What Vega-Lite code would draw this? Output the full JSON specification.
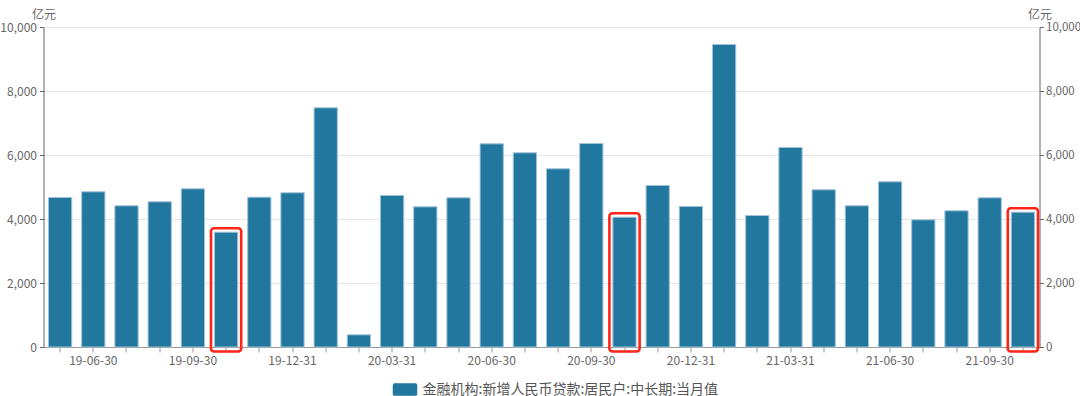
{
  "$schema": "https://vega.github.io/schema/vega-lite/v6.json",
  "autosize": "none",
  "width": 996,
  "height": 320,
  "padding": {"left": 43.5, "top": 27, "right": 40.5, "bottom": 49},
  "background": "#ffffff",
  "config": {
    "font": "Noto Sans CJK SC",
    "view": {"stroke": null},
    "axis": {"labelFont": "Noto Sans CJK SC", "titleFont": "Noto Sans CJK SC", "labelColor": "#666666", "labelFontSize": 12, "titleColor": "#666666", "titleFontSize": 12, "titleFontWeight": "normal"}
  },
  "data": {
    "values": [
      {"date": "19-05-31", "value": 4672},
      {"date": "19-06-30", "value": 4850},
      {"date": "19-07-31", "value": 4412},
      {"date": "19-08-31", "value": 4537},
      {"date": "19-09-30", "value": 4943},
      {"date": "19-10-31", "value": 3588},
      {"date": "19-11-30", "value": 4682},
      {"date": "19-12-31", "value": 4818},
      {"date": "20-01-31", "value": 7474},
      {"date": "20-02-29", "value": 381},
      {"date": "20-03-31", "value": 4734},
      {"date": "20-04-30", "value": 4380},
      {"date": "20-05-31", "value": 4662},
      {"date": "20-06-30", "value": 6349},
      {"date": "20-07-31", "value": 6068},
      {"date": "20-08-31", "value": 5568},
      {"date": "20-09-30", "value": 6359},
      {"date": "20-10-31", "value": 4057},
      {"date": "20-11-30", "value": 5047},
      {"date": "20-12-31", "value": 4390},
      {"date": "21-01-31", "value": 9453},
      {"date": "21-02-28", "value": 4109},
      {"date": "21-03-31", "value": 6234},
      {"date": "21-04-30", "value": 4912},
      {"date": "21-05-31", "value": 4412},
      {"date": "21-06-30", "value": 5162},
      {"date": "21-07-31", "value": 3974},
      {"date": "21-08-31", "value": 4255},
      {"date": "21-09-30", "value": 4662},
      {"date": "21-10-31", "value": 4213}
    ]
  },
  "encoding": {
    "x": {
      "field": "date", "type": "ordinal", "sort": null,
      "scale": {"paddingInner": 0.3, "paddingOuter": 0.15},
      "axis": {
        "title": null, "labelAngle": 0, "domainColor": "#999999", "tickColor": "#999999", "tickSize": 5, "labelPadding": 3, "grid": false,
        "labelExpr": "indexof(['19-06-30','19-09-30','19-12-31','20-03-31','20-06-30','20-09-30','20-12-31','21-03-31','21-06-30','21-09-30'], datum.value) >= 0 ? datum.value : ''"
      }
    }
  },
  "layer": [
    {
      "mark": {"type": "bar", "color": "#22779f", "stroke": "#9fc3d8", "strokeWidth": 1},
      "encoding": {
        "y": {
          "field": "value", "type": "quantitative",
          "scale": {"domain": [0, 10000], "nice": false},
          "axis": {"orient": "left", "values": [0, 2000, 4000, 6000, 8000, 10000], "labelExpr": "format(datum.value, ',')", "grid": true, "gridColor": "#e6e6e6", "domainColor": "#666666", "tickColor": "#666666", "tickSize": 4, "labelPadding": 3,
            "title": "亿元", "titleAngle": 0, "titleX": 0, "titleY": -9, "titleAlign": "center", "titleBaseline": "alphabetic"}
        },
        "fill": {"datum": "金融机构:新增人民币贷款:居民户:中长期:当月值", "type": "nominal",
          "scale": {"range": ["#22779f"]},
          "legend": {"title": null, "orient": "none", "legendX": 349, "legendY": 350, "symbolType": "M-0.85,-0.52H0.85Q1,-0.52 1,-0.37V0.37Q1,0.52 0.85,0.52H-0.85Q-1,0.52 -1,0.37V-0.37Q-1,-0.52 -0.85,-0.52Z", "symbolSize": 600, "symbolStrokeWidth": 0, "labelFontSize": 14, "labelOffset": 5, "labelLimit": 0, "labelColor": "#555555", "labelFont": "Noto Sans CJK SC"}
        }
      }
    },
    {
      "transform": [{"filter": "indexof(['19-10-31','20-10-31','21-10-31'], datum.date) >= 0"}],
      "mark": {"type": "bar", "filled": false, "fill": null, "stroke": "#ff2418", "strokeWidth": 2.6, "cornerRadius": 3, "width": {"band": 1.3}, "yOffset": -4, "y2Offset": 4.5},
      "encoding": {
        "y": {"field": "value", "type": "quantitative", "axis": {"orient": "right", "values": [0, 2000, 4000, 6000, 8000, 10000], "labelExpr": "format(datum.value, ',')", "grid": false, "domainColor": "#666666", "tickColor": "#666666", "tickSize": 4, "labelPadding": 2, "labelFontSize": 11.5,
            "title": "亿元", "titleAngle": 0, "titleX": 0, "titleY": -9, "titleAlign": "center", "titleBaseline": "alphabetic"}},
        "y2": {"datum": 0}
      }
    }
  ],
  "resolve": {"axis": {"y": "independent"}}
}
